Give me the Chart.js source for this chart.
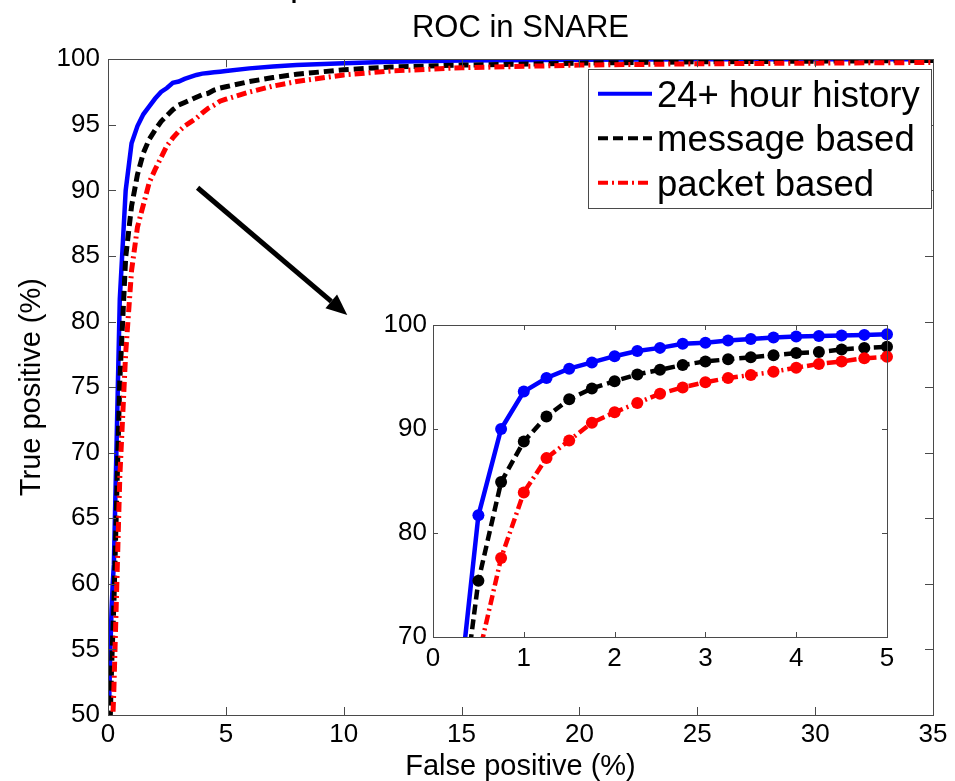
<!DOCTYPE html>
<html>
<head>
<meta charset="utf-8">
<script src="https://cdn.jsdelivr.net/npm/chart.js@4.4.0/dist/chart.umd.min.js"></script>
<style>
  html, body { margin: 0; padding: 0; background: #fff; }
  #wrap { position: relative; width: 955px; height: 781px; overflow: hidden; }
  #main { position: absolute; left: 0; top: 0; width: 955px; height: 781px; }
  #inset { position: absolute; left: 380px; top: 300px; width: 540px; height: 380px; }
</style>
</head>
<body>
<div id="wrap">
  <canvas id="main" width="955" height="781"></canvas>
  <canvas id="inset" width="540" height="380"></canvas>
</div>
<script>
// ROC curves: false positive (%) vs true positive (%)
const fpr = [0.05, 0.1, 0.15, 0.2, 0.25,
  0.5, 0.75, 1, 1.25, 1.5, 1.75, 2, 2.25, 2.5, 2.75, 3, 3.25, 3.5, 3.75, 4, 4.25, 4.5, 4.75, 5,
  6, 7, 8, 10, 12, 15, 20, 25, 30, 35];

const tpHistory = [51, 55, 58, 60, 61.5,
  81.7, 90.0, 93.6, 94.9, 95.8, 96.4, 97.0, 97.5, 97.8, 98.2, 98.3, 98.5, 98.65, 98.8, 98.9, 98.95, 99.0, 99.05, 99.1,
  99.3, 99.45, 99.55, 99.7, 99.8, 99.9, 99.95, 100, 100, 100];

const tpMessage = [45, 50, 53.5, 56, 58.5,
  75.4, 84.9, 88.8, 91.2, 92.85, 93.9, 94.6, 95.25, 95.7, 96.15, 96.5, 96.7, 96.9, 97.1, 97.3, 97.4, 97.65, 97.8, 97.9,
  98.3, 98.6, 98.85, 99.2, 99.4, 99.55, 99.7, 99.8, 99.85, 99.9];

const tpPacket = [35, 40, 45, 49.5, 52,
  68.1, 77.6, 83.9, 87.2, 88.9, 90.6, 91.6, 92.5, 93.4, 94.0, 94.5, 94.9, 95.2, 95.5, 95.9, 96.25, 96.5, 96.8, 96.95,
  97.5, 97.95, 98.3, 98.8, 99.1, 99.35, 99.55, 99.65, 99.7, 99.75];

const seriesLabels = ['24+ hour history', 'message based', 'packet based'];

const mainXTicks = [0, 5, 10, 15, 20, 25, 30, 35];
const mainYTicks = [50, 55, 60, 65, 70, 75, 80, 85, 90, 95, 100];
const insetXTicks = [0, 1, 2, 3, 4, 5];
const insetYTicks = [70, 80, 90, 100];

// arrow from the main curves to the zoomed inset (data coords of the main axes)
const arrowFrom = [3.8, 90.2];
const arrowTo = [10.15, 80.5];

const $ = (id) => document.getElementById(id);
const FONT = "'Liberation Sans', Arial, Helvetica, sans-serif";
const FRAME_COLOR = '#4a4a4a';

const STYLES = [
  { color: '#0000ff', dash: [], width: 4.5 },
  { color: '#000000', dash: [10, 5], width: 5 },
  { color: '#ff0000', dash: [10, 4, 2, 4], width: 5 },
];
const SERIES = [tpHistory, tpMessage, tpPacket];

function toPoints(ys, maxX) {
  const pts = fpr.map((x, i) => ({ x, y: ys[i] }));
  return maxX == null ? pts : pts.filter((p) => p.x <= maxX);
}

// MATLAB-style box with inward ticks on all four sides
function drawFrame(chart, len) {
  const { ctx, chartArea: a, scales } = chart;
  ctx.save();
  ctx.strokeStyle = FRAME_COLOR;
  ctx.lineWidth = 1;
  ctx.beginPath();
  for (const t of scales.x.ticks) {
    const px = Math.round(scales.x.getPixelForValue(t.value)) + 0.5;
    ctx.moveTo(px, a.bottom); ctx.lineTo(px, a.bottom - len);
    ctx.moveTo(px, a.top); ctx.lineTo(px, a.top + len);
  }
  for (const t of scales.y.ticks) {
    const py = Math.round(scales.y.getPixelForValue(t.value)) + 0.5;
    ctx.moveTo(a.left, py); ctx.lineTo(a.left + len, py);
    ctx.moveTo(a.right, py); ctx.lineTo(a.right - len, py);
  }
  ctx.stroke();
  ctx.strokeRect(Math.round(a.left) + 0.5, Math.round(a.top) + 0.5,
    Math.round(a.right - a.left), Math.round(a.bottom - a.top));
  ctx.restore();
}

const mainDecor = {
  id: 'mainDecor',
  afterDraw(chart) {
    const { ctx, chartArea: a, scales } = chart;
    drawFrame(chart, 8);

    // legend box, top right inside the axes
    const bw = 343, bh = 139;
    const bx = a.right - 2 - bw, by = a.top + 10;
    ctx.save();
    ctx.fillStyle = '#fff';
    ctx.fillRect(bx, by, bw, bh);
    ctx.strokeStyle = FRAME_COLOR;
    ctx.lineWidth = 1;
    ctx.strokeRect(Math.round(bx) + 0.5, Math.round(by) + 0.5, bw, bh);
    ctx.font = `36.5px ${FONT}`;
    ctx.textBaseline = 'alphabetic';
    seriesLabels.forEach((label, i) => {
      const st = STYLES[i];
      const ry = by + 24.5 + i * 44.5;
      ctx.strokeStyle = st.color;
      ctx.lineWidth = 4;
      ctx.setLineDash(st.dash);
      ctx.beginPath();
      ctx.moveTo(bx + 10, ry);
      ctx.lineTo(bx + 64, ry);
      ctx.stroke();
      ctx.setLineDash([]);
      ctx.fillStyle = '#000';
      ctx.fillText(label, bx + 69, ry + 13);
    });
    ctx.restore();

    // arrow
    const x0 = scales.x.getPixelForValue(arrowFrom[0]);
    const y0 = scales.y.getPixelForValue(arrowFrom[1]);
    const x1 = scales.x.getPixelForValue(arrowTo[0]);
    const y1 = scales.y.getPixelForValue(arrowTo[1]);
    const ang = Math.atan2(y1 - y0, x1 - x0);
    const headLen = 21, headW = 9;
    const bxh = x1 - headLen * Math.cos(ang), byh = y1 - headLen * Math.sin(ang);
    ctx.save();
    ctx.strokeStyle = '#000';
    ctx.fillStyle = '#000';
    ctx.lineWidth = 5;
    ctx.beginPath();
    ctx.moveTo(x0, y0);
    ctx.lineTo(bxh, byh);
    ctx.stroke();
    ctx.beginPath();
    ctx.moveTo(x1, y1);
    ctx.lineTo(bxh + headW * Math.sin(ang), byh - headW * Math.cos(ang));
    ctx.lineTo(bxh - headW * Math.sin(ang), byh + headW * Math.cos(ang));
    ctx.closePath();
    ctx.fill();

    // the cut-off tail of a heading above the figure
    ctx.font = `36px ${FONT}`;
    ctx.fillText('p', 290, -5);
    ctx.restore();
  },
};

const insetDecor = {
  id: 'insetDecor',
  beforeDraw(chart) {
    const { ctx, chartArea: a } = chart;
    ctx.save();
    ctx.fillStyle = '#fff';
    ctx.fillRect(a.left, a.top, a.right - a.left, a.bottom - a.top);
    ctx.restore();
  },
  afterDraw(chart) {
    drawFrame(chart, 5);
  },
};

const tickFont = { family: FONT, size: 26 };
const labelFont = { family: FONT, size: 29, lineHeight: 1 };

new Chart($('main'), {
  type: 'line',
  data: {
    datasets: SERIES.map((ys, i) => ({
      label: seriesLabels[i],
      data: toPoints(ys),
      borderColor: STYLES[i].color,
      backgroundColor: STYLES[i].color,
      borderDash: STYLES[i].dash,
      borderWidth: STYLES[i].width,
      pointRadius: 0,
      tension: 0,
      fill: false,
    })).reverse(),
  },
  options: {
    responsive: false,
    animation: false,
    events: [],
    layout: { padding: { top: 0, right: 22, bottom: 0, left: 0 } },
    plugins: {
      legend: { display: false },
      tooltip: { enabled: false },
      title: {
        display: true,
        fullSize: false,
        text: 'ROC in SNARE',
        color: '#000',
        font: { family: FONT, size: 31, weight: 'normal', lineHeight: 1.2 },
        padding: { top: 10, bottom: 12 },
      },
    },
    scales: {
      x: {
        type: 'linear',
        min: 0,
        max: 35,
        afterFit: (s) => { s.height = 66; },
        afterBuildTicks: (s) => { s.ticks = mainXTicks.map((v) => ({ value: v })); },
        ticks: { font: tickFont, color: '#000', padding: 4, maxRotation: 0, autoSkip: false },
        grid: { display: false, drawTicks: false },
        border: { display: false },
        title: { display: true, text: 'False positive (%)', color: '#000', font: labelFont, padding: { top: 0, bottom: 0 } },
      },
      y: {
        type: 'linear',
        min: 50,
        max: 100,
        afterFit: (s) => { s.width = 108; },
        afterBuildTicks: (s) => { s.ticks = mainYTicks.map((v) => ({ value: v })); },
        ticks: { font: tickFont, color: '#000', padding: 8, autoSkip: false },
        grid: { display: false, drawTicks: false },
        border: { display: false },
        title: { display: true, text: 'True positive (%)', color: '#000', font: labelFont, padding: { top: 17, bottom: 0 } },
      },
    },
  },
  plugins: [mainDecor],
});

new Chart($('inset'), {
  type: 'line',
  data: {
    datasets: SERIES.map((ys, i) => ({
      label: seriesLabels[i],
      data: toPoints(ys, 5),
      borderColor: STYLES[i].color,
      backgroundColor: STYLES[i].color,
      borderDash: STYLES[i].dash,
      borderWidth: 4.5,
      pointRadius: 6,
      pointBorderWidth: 0,
      pointBackgroundColor: STYLES[i].color,
      tension: 0,
      fill: false,
      clip: { left: 0, top: 10, right: 10, bottom: 0 },
    })).reverse(),
  },
  options: {
    responsive: false,
    animation: false,
    events: [],
    layout: { padding: { top: 25, right: 33, bottom: 0, left: 0 } },
    plugins: { legend: { display: false }, tooltip: { enabled: false } },
    scales: {
      x: {
        type: 'linear',
        min: 0,
        max: 5,
        afterFit: (s) => { s.height = 43; },
        afterBuildTicks: (s) => { s.ticks = insetXTicks.map((v) => ({ value: v })); },
        ticks: { font: tickFont, color: '#000', padding: 6, maxRotation: 0, autoSkip: false },
        grid: { display: false, drawTicks: false },
        border: { display: false },
      },
      y: {
        type: 'linear',
        min: 70,
        max: 100,
        afterFit: (s) => { s.width = 53; },
        afterBuildTicks: (s) => { s.ticks = insetYTicks.map((v) => ({ value: v })); },
        ticks: { font: tickFont, color: '#000', padding: 6, autoSkip: false },
        grid: { display: false, drawTicks: false },
        border: { display: false },
      },
    },
  },
  plugins: [insetDecor],
});
</script>
</body>
</html>
